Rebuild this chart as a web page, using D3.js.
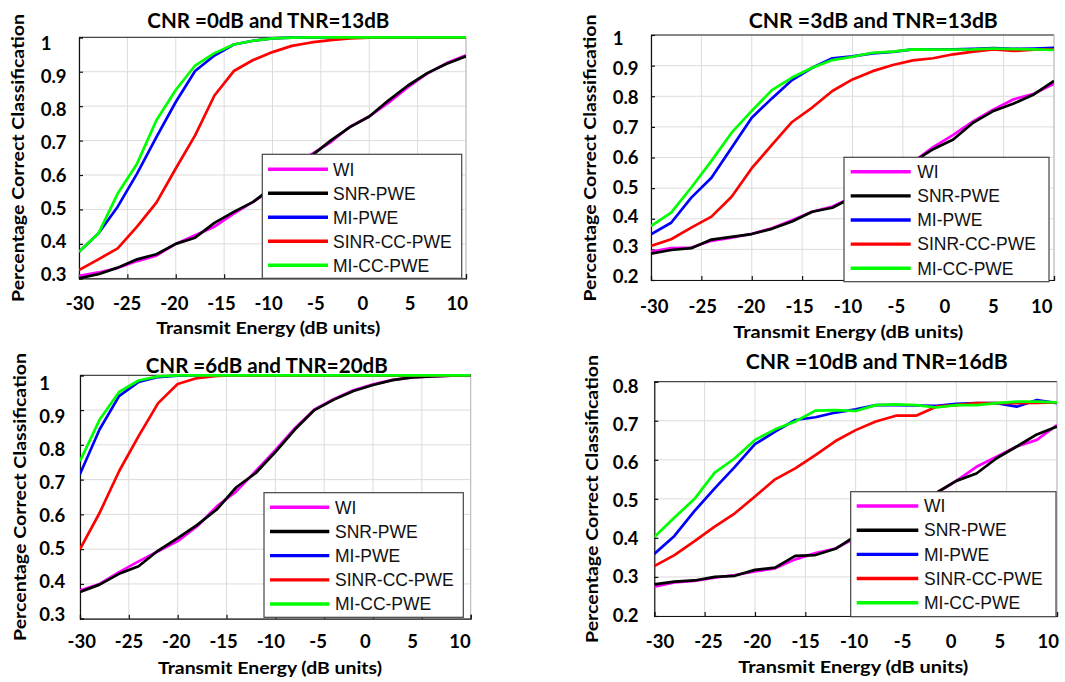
<!DOCTYPE html>
<html><head><meta charset="utf-8">
<script src="https://cdn.jsdelivr.net/npm/d3@7"></script>
<style>body{margin:0;background:#fff}</style>
</head><body>
<svg id="c" width="1065" height="682" xmlns="http://www.w3.org/2000/svg"></svg>
<script>
// ---------------- DATA ----------------
const energy = [-30,-28,-26,-24,-22,-20,-18,-16,-14,-12,-10,-8,-6,-4,-2,0,2,4,6,8,10];
const xTickValues = [-30,-25,-20,-15,-10,-5,0,5,10];
const seriesNames = ["WI","SNR-PWE","MI-PWE","SINR-CC-PWE","MI-CC-PWE"];
const seriesColors = ["#ff00ff","#000000","#0000ff","#ff0000","#00ff00"];
const titles = ["CNR =0dB and TNR=13dB","CNR =3dB and TNR=13dB","CNR =6dB and TNR=20dB","CNR =10dB and TNR=16dB"];
const xTitle = "Transmit Energy (dB units)";
const yTitle = "Percentage Correct Classification";
const yTicks1 = [1,0.9,0.8,0.7,0.6,0.5,0.4,0.3];
const yTicks2 = [1,0.9,0.8,0.7,0.6,0.5,0.4,0.3,0.2];
const yTicks3 = [1,0.9,0.8,0.7,0.6,0.5,0.4,0.3];
const yTicks4 = [0.8,0.7,0.6,0.5,0.4,0.3,0.2];

// Panel 1: CNR 0 dB, TNR 13 dB
const p1WI   = [.307,.317,.330,.350,.366,.400,.425,.450,.488,.522,.560,.610,.660,.695,.740,.770,.810,.855,.895,.925,.948];
const p1SNR  = [.300,.312,.331,.355,.370,.400,.418,.461,.493,.522,.565,.615,.655,.700,.739,.770,.817,.860,.896,.923,.945];
const p1MI   = [.377,.430,.508,.604,.710,.812,.902,.947,.979,.990,.997,.999,1,1,1,1,1,1,1,1,1];
const p1SINR = [.324,.355,.387,.450,.520,.619,.715,.831,.902,.934,.957,.975,.985,.992,.997,.999,1,1,1,1,1];
const p1MICC = [.377,.430,.546,.633,.759,.847,.918,.954,.979,.990,.997,.999,1,1,1,1,1,1,1,1,1];
// Panel 2: CNR 3 dB, TNR 13 dB
const p2WI   = [.293,.304,.306,.328,.338,.351,.369,.395,.423,.440,.470,.500,.540,.585,.634,.674,.719,.757,.790,.808,.841];
const p2SNR  = [.286,.298,.304,.332,.341,.350,.367,.391,.423,.436,.470,.500,.540,.585,.627,.659,.714,.752,.776,.806,.850];
const p2MI   = [.349,.387,.469,.534,.632,.730,.793,.853,.893,.924,.930,.940,.945,.953,.952,.953,.955,.957,.955,.956,.958];
const p2SINR = [.311,.333,.371,.407,.472,.565,.641,.716,.763,.817,.855,.882,.902,.917,.924,.937,.946,.953,.948,.952,.953];
const p2MICC = [.376,.420,.502,.589,.681,.752,.820,.861,.893,.918,.929,.942,.946,.953,.952,.952,.953,.956,.954,.953,.951];
// Panel 3: CNR 6 dB, TNR 20 dB
const p3WI   = [.381,.400,.434,.465,.494,.523,.566,.623,.666,.725,.785,.848,.902,.932,.957,.974,.987,.994,.997,.999,1];
const p3SNR  = [.377,.398,.429,.451,.496,.532,.570,.614,.678,.719,.779,.844,.900,.930,.955,.972,.986,.994,.997,.999,1];
const p3MI   = [.716,.844,.940,.981,.995,.999,1,1,1,1,1,1,1,1,1,1,1,1,1,1,1];
const p3SINR = [.500,.604,.724,.825,.920,.975,.992,.998,1,1,1,1,1,1,1,1,1,1,1,1,1];
const p3MICC = [.753,.872,.952,.985,.997,1,1,1,1,1,1,1,1,1,1,1,1,1,1,1,1];
// Panel 4: CNR 10 dB, TNR 16 dB
const p4WI   = [.275,.286,.290,.298,.305,.314,.322,.345,.361,.373,.400,.430,.455,.480,.515,.546,.582,.608,.634,.651,.689];
const p4SNR  = [.281,.288,.291,.300,.303,.318,.324,.354,.356,.372,.405,.430,.455,.480,.515,.546,.565,.604,.634,.665,.685];
const p4MI   = [.359,.405,.469,.527,.582,.640,.672,.702,.709,.721,.729,.740,.740,.739,.738,.743,.745,.745,.736,.753,.745];
const p4SINR = [.328,.356,.392,.429,.463,.506,.550,.578,.612,.648,.676,.698,.713,.713,.736,.740,.745,.745,.745,.746,.747];
const p4MICC = [.402,.452,.500,.567,.604,.651,.678,.698,.726,.727,.725,.740,.742,.740,.734,.740,.740,.745,.749,.749,.747];

const panelSeries = [
  [p1WI,p1SNR,p1MI,p1SINR,p1MICC],
  [p2WI,p2SNR,p2MI,p2SINR,p2MICC],
  [p3WI,p3SNR,p3MI,p3SINR,p3MICC],
  [p4WI,p4SNR,p4MI,p4SINR,p4MICC]
];
const panelYTicks = [yTicks1,yTicks2,yTicks3,yTicks4];

// ---------------- LAYOUT ----------------
const layout = [
  {plot:[79,466,37.3,278.3], title:[268.3,20.7,242], ylab:[18.3,158,288], yTickX:40.7, yTickY:[43.3,274],
   xTickY:303.3, xTickX:[80,457.3], xtitle:[268.3,328.3,224],
   legend:{x0:262.3,x1:461.7,y0:154.3,y1:278.3, r0:169.3, r1:265.3, lx0:268, lx1:328, tx:333}},
  {plot:[651,1054,35,280], title:[873.3,20.7,249], ylab:[590,158,287], yTickX:612.7, yTickY:[38.3,276],
   xTickY:306, xTickX:[654.3,1041.7], xtitle:[848.3,331.7,230],
   legend:{x0:844,x1:1049,y0:157.3,y1:281.7, r0:171.7, r1:268.3, lx0:850.7, lx1:910.7, tx:917.3}},
  {plot:[80,470.7,375.3,618.7], title:[266.7,365,242], ylab:[20,497,288], yTickX:39.3, yTickY:[383.3,614],
   xTickY:641.7, xTickX:[81.7,460], xtitle:[270,668.3,224],
   legend:{x0:264,x1:463.3,y0:492.7,y1:617.3, r0:507.3, r1:604, lx0:270, lx1:329.3, tx:335}},
  {plot:[654.3,1057,381.7,616], title:[876.7,361.7,262], ylab:[591.7,499,288], yTickX:612.7, yTickY:[386,615],
   xTickY:641.7, xTickX:[660,1048.3], xtitle:[853.3,666.7,230],
   legend:{x0:850.7,x1:1056,y0:491.7,y1:616.7, r0:506, r1:602.7, lx0:856.7, lx1:918.3, tx:924}}
];

const svg = d3.select("#c");
svg.append("rect").attr("width",1065).attr("height",682).attr("fill","#fff");
const boldFont = "Lato, 'Open Sans', sans-serif";
const fmt = d => d === 1 ? "1" : d.toFixed(1);

layout.forEach((L, pi) => {
  const g = svg.append("g");
  const yT = panelYTicks[pi];
  const yDom = [d3.min(yT), d3.max(yT)];
  const x = d3.scaleLinear().domain([-30,10]).range([L.plot[0], L.plot[1]]);
  const y = d3.scaleLinear().domain(yDom).range([L.plot[3], L.plot[2]]);

  // grid
  g.append("g").selectAll("line.vg").data(xTickValues).join("line")
    .attr("x1", d=>x(d)).attr("x2", d=>x(d)).attr("y1", L.plot[2]).attr("y2", L.plot[3])
    .attr("stroke","#dcdcdc").attr("stroke-width",1);
  g.append("g").selectAll("line.hg").data(yT).join("line")
    .attr("x1", L.plot[0]).attr("x2", L.plot[1]).attr("y1", d=>y(d)).attr("y2", d=>y(d))
    .attr("stroke","#dcdcdc").attr("stroke-width",1);

  // box
  g.append("line").attr("x1",L.plot[0]).attr("x2",L.plot[1]).attr("y1",L.plot[2]).attr("y2",L.plot[2]).attr("stroke","#222").attr("stroke-width",1);
  g.append("line").attr("x1",L.plot[1]).attr("x2",L.plot[1]).attr("y1",L.plot[2]).attr("y2",L.plot[3]).attr("stroke","#bbb").attr("stroke-width",1);
  // axes with inward ticks
  g.append("g").attr("transform",`translate(0,${L.plot[3]})`)
    .call(d3.axisBottom(x).tickValues(xTickValues).tickSize(-4).tickFormat(""))
    .call(a=>a.selectAll("path,line").attr("stroke","#111").attr("stroke-width",1.2));
  g.append("g").attr("transform",`translate(${L.plot[0]},0)`)
    .call(d3.axisLeft(y).tickValues(yT).tickSize(-4).tickFormat(""))
    .call(a=>a.selectAll("path,line").attr("stroke","#111").attr("stroke-width",1.2));

  // lines
  const clipId = "clip"+pi;
  g.append("clipPath").attr("id",clipId).append("rect")
    .attr("x",L.plot[0]).attr("y",L.plot[2]-2).attr("width",L.plot[1]-L.plot[0]).attr("height",L.plot[3]-L.plot[2]+4);
  const line = d3.line().x((d,i)=>x(energy[i])).y(d=>y(d));
  const lg = g.append("g").attr("clip-path",`url(#${clipId})`);
  panelSeries[pi].forEach((vals, si) => {
    lg.append("path").attr("d", line(vals)).attr("fill","none")
      .attr("stroke", seriesColors[si]).attr("stroke-width",2.7).attr("stroke-linejoin","round");
  });

  // tick labels (placed with their own label scales)
  const xl = d3.scaleLinear().domain([-30,10]).range(L.xTickX);
  g.append("g").selectAll("text").data(xTickValues).join("text")
    .attr("x", d=>xl(d)).attr("y", L.xTickY).attr("dy","0.36em").attr("text-anchor","middle")
    .attr("font-family",boldFont).attr("font-weight",700).attr("font-size",18.5).attr("fill","#000")
    .text(d=>String(d));
  const yl = d3.scaleLinear().domain([yDom[1], yDom[0]]).range(L.yTickY);
  g.append("g").selectAll("text").data(yT).join("text")
    .attr("x", L.yTickX).attr("y", d=>yl(d)).attr("dy","0.36em").attr("text-anchor","start")
    .attr("font-family",boldFont).attr("font-weight",700).attr("font-size",18.5).attr("fill","#000")
    .text(fmt);

  // titles
  g.append("text").attr("x",L.title[0]).attr("y",L.title[1]).attr("dy","0.36em").attr("text-anchor","middle")
    .attr("font-family",boldFont).attr("font-weight",700).attr("font-size",21)
    .attr("textLength",L.title[2]).attr("lengthAdjust","spacingAndGlyphs").text(titles[pi]);
  g.append("text").attr("x",L.xtitle[0]).attr("y",L.xtitle[1]).attr("dy","0.36em").attr("text-anchor","middle")
    .attr("font-family",boldFont).attr("font-weight",700).attr("font-size",17)
    .attr("textLength",L.xtitle[2]).attr("lengthAdjust","spacingAndGlyphs").text(xTitle);
  g.append("text").attr("transform",`translate(${L.ylab[0]},${L.ylab[1]}) rotate(-90)`).attr("dy","0.36em")
    .attr("text-anchor","middle").attr("font-family",boldFont).attr("font-weight",700).attr("font-size",17)
    .attr("textLength",L.ylab[2]).attr("lengthAdjust","spacingAndGlyphs").text(yTitle);

  // legend
  const Lg = L.legend;
  g.append("rect").attr("x",Lg.x0).attr("y",Lg.y0).attr("width",Lg.x1-Lg.x0).attr("height",Lg.y1-Lg.y0)
    .attr("fill","#fff").attr("stroke","#444").attr("stroke-width",1.2);
  const ry = d3.scalePoint().domain(seriesNames).range([Lg.r0, Lg.r1]);
  seriesNames.forEach((nm, si) => {
    g.append("line").attr("x1",Lg.lx0).attr("x2",Lg.lx1).attr("y1",ry(nm)).attr("y2",ry(nm))
      .attr("stroke",seriesColors[si]).attr("stroke-width",3.4);
    g.append("text").attr("x",Lg.tx).attr("y",ry(nm)).attr("dy","0.36em")
      .attr("font-family","'Liberation Sans', Arial, sans-serif").attr("font-size",17.5).attr("fill","#111")
      .text(nm);
  });
});
</script>
</body></html>
